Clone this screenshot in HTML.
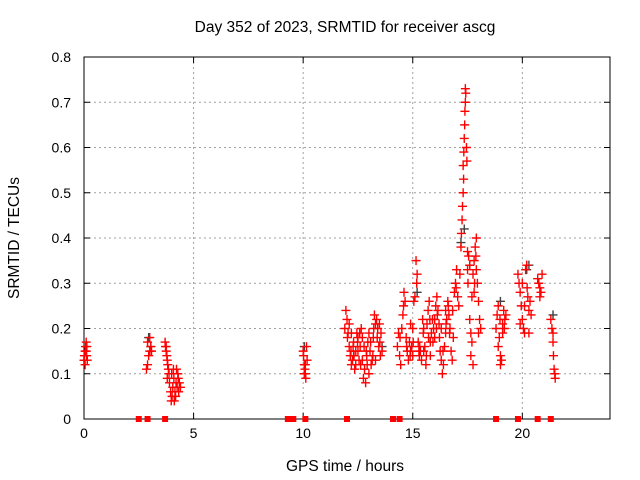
<!DOCTYPE html>
<html><head><meta charset="utf-8"><style>
body{margin:0;background:#fff;}
svg{display:block;font-family:"Liberation Sans",sans-serif;}
</style></head><body>
<svg id="chart" width="640" height="480">
<text x="345" y="32" text-anchor="middle" font-size="15.5">Day 352 of 2023, SRMTID for receiver ascg</text>
<text x="345" y="471" text-anchor="middle" font-size="15.5">GPS time / hours</text>
<text transform="translate(19,238) rotate(-90)" text-anchor="middle" font-size="15.5">SRMTID / TECUs</text>
<g id="grid"></g><g id="axes"></g><g id="marks"></g>
</svg>
<script>
const xTicks=[0,5,10,15,20];
const yTicks=[0,0.1,0.2,0.3,0.4,0.5,0.6,0.7,0.8];
const redTimes=[0,0.02,0.05,0.07,0.1,0.12,0.15,0.05,0.1,0.13,
2.85,2.9,2.95,3,3.05,2.9,3,3.08,
3.7,3.72,3.75,3.78,3.8,3.82,3.85,3.88,3.75,3.8,
3.9,3.95,4,4.02,4.05,4.1,4.12,4.15,4.2,4.22,4.25,4.3,4.32,4.35,4.4,3.98,4.08,4.18,4.28,
10,10.02,10.05,10.08,10.1,10.12,10.15,10.18,10.05,10.1,
11.9,11.95,12,12.05,12.1,12.15,12.2,12.25,12.3,12.35,12.4,12.45,12.5,12.55,12.6,12.65,12.7,12.75,12.8,12.85,12.9,12.95,13,13.05,13.1,13.15,13.2,13.25,13.3,13.35,13.4,13.45,13.5,13.55,13.6,12.2,12.4,12.7,13,13.3,12.1,12.5,
12.02,12.18,12.32,12.48,12.62,12.78,12.92,13.08,13.22,13.38,13.52,12.28,12.58,12.88,13.18,13.48,
14.3,14.35,14.4,14.45,14.5,14.55,14.6,14.65,14.7,14.75,14.8,14.85,14.9,14.95,15,15.05,15.1,15.15,15.2,15.25,15.3,15.35,15.4,15.45,15.5,15.55,15.6,15.65,15.7,15.75,15.8,15.85,15.9,15.95,16,16.05,16.1,16.15,16.2,16.25,16.3,16.35,16.4,16.45,16.5,16.55,16.6,16.65,16.7,16.75,16.8,16.85,16.9,16.95,17,15,15.5,16,16.5,14.9,15.8,16.3,
14.42,14.58,14.72,14.88,15.02,15.18,15.32,15.48,15.62,15.78,15.92,16.08,16.22,16.38,16.52,16.68,16.82,16.98,15.28,15.72,16.12,16.62,
17.05,17.1,17.15,17.2,17.22,17.25,17.27,17.3,17.32,17.3,17.33,17.35,17.37,17.38,17.4,17.42,17.4,17.45,17.47,17.5,17.5,17.52,17.55,17.6,
17.6,17.65,17.7,17.75,17.8,17.85,17.9,17.95,18,18.05,18.1,17.7,17.8,17.9,18,17.65,17.75,17.82,17.88,
18.8,18.85,18.9,18.95,19,19.05,19.1,19.15,19.2,19.25,18.9,19,19.1,18.98,19.18,
19.8,19.85,19.9,19.95,20,20.05,20.1,20.15,20.2,20.25,20.3,20.35,20.4,19.9,20.1,20.3,20.0,20.22,
20.7,20.75,20.8,20.85,20.9,20.8,
21.3,21.35,21.4,21.42,21.45,21.48,21.5,21.4];
const redValues=[.13,.14,.15,.16,.17,.14,.13,.12,.15,.16,
.11,.12,.14,.15,.16,.17,.18,.15,
.17,.16,.15,.14,.13,.12,.11,.10,.16,.09,
.08,.06,.1,.05,.07,.09,.04,.06,.08,.11,.07,.09,.06,.08,.07,.04,.11,.05,.1,
.15,.14,.12,.11,.10,.09,.16,.13,.1,.12,
.2,.24,.22,.19,.16,.14,.12,.13,.17,.11,.15,.19,.18,.13,.16,.2,.18,.09,.11,.08,.14,.17,.19,.15,.12,.13,.18,.23,.21,.22,.2,.16,.17,.19,.15,.19,.12,.13,.1,.13,.21,.15,
.18,.15,.14,.17,.12,.16,.12,.17,.2,.18,.14,.16,.19,.15,.14,.21,
.16,.19,.14,.12,.2,.23,.28,.26,.18,.15,.13,.17,.21,.16,.14,.26,.27,.35,.32,.17,.14,.15,.13,.22,.2,.16,.12,.21,.24,.26,.17,.19,.22,.2,.18,.25,.27,.24,.21,.15,.13,.1,.12,.16,.19,.22,.26,.23,.2,.15,.13,.18,.28,.3,.33,.2,.15,.22,.24,.15,.14,.2,
.18,.25,.16,.14,.17,.3,.16,.19,.14,.22,.17,.2,.18,.15,.21,.19,.24,.29,.15,.18,.23,.25,
.27,.25,.32,.38,.41,.44,.47,.5,.53,.56,.59,.62,.65,.68,.7,.72,.73,.6,.57,.37,.33,.3,.36,.34,
.22,.19,.27,.32,.35,.38,.4,.3,.26,.22,.2,.17,.28,.33,.19,.14,.12,.3,.36,
.2,.23,.25,.18,.14,.13,.21,.24,.22,.23,.16,.12,.19,.22,.2,
.32,.3,.28,.25,.22,.2,.19,.33,.34,.27,.24,.26,.23,.21,.25,.19,.3,.29,
.31,.3,.29,.28,.32,.27,
.22,.2,.17,.14,.11,.1,.09,.19];
const blackTimes=[0,2.95,3.05,10.05,12.3,13.6,15.2,17.2,17.35,17.6,19.0,20.2,20.3,21.4];
const blackValues=[.13,.18,.16,.16,.14,.16,.28,.39,.42,.34,.26,.33,.34,.23];
const zeroTimes=[2.5,2.9,3.7,9.3,9.45,9.55,10.1,12.0,14.1,14.4,18.8,19.8,20.7,21.3];
const NS="http://www.w3.org/2000/svg";
const L=84,R=610,T=57,B=419,XMAX=24,YMAX=0.8;
const xs=t=>L+t/XMAX*(R-L), ys=v=>B-v/YMAX*(B-T);
function mk(tag,attrs,parent){const e=document.createElementNS(NS,tag);for(const k in attrs)e.setAttribute(k,attrs[k]);parent.appendChild(e);return e;}
const grid=document.getElementById('grid'),axes=document.getElementById('axes'),marks=document.getElementById('marks');
xTicks.forEach(t=>{const x=xs(t);
 if(t>0){const g=mk('line',{x1:x,x2:x,y1:T,y2:B,stroke:'#a0a0a0','stroke-dasharray':'2,3'},grid);
 
 }
 mk('line',{x1:x,x2:x,y1:B,y2:B-6,stroke:'#000'},axes);mk('line',{x1:x,x2:x,y1:T,y2:T+6,stroke:'#000'},axes);
 const tx=mk('text',{x:x,y:B+19,'text-anchor':'middle','font-size':'14'},axes);tx.textContent=t;
 
 });
yTicks.forEach(v=>{const y=ys(v);
 if(v>0&&v<YMAX){const g=mk('line',{x1:L,x2:R,y1:y,y2:y,stroke:'#a0a0a0','stroke-dasharray':'2,3'},grid);
 
 }
 mk('line',{x1:L,x2:L+6,y1:y,y2:y,stroke:'#000'},axes);mk('line',{x1:R,x2:R-6,y1:y,y2:y,stroke:'#000'},axes);
 const tx=mk('text',{x:L-13,y:y+5,'text-anchor':'end','font-size':'14'},axes);tx.textContent=v===0?'0':v.toFixed(1);
 
 });
const fr=mk('rect',{x:L,y:T,width:R-L,height:B-T,fill:'none',stroke:'#000'},axes);


function plus(t,v,col,name){const x=xs(t),y=ys(v);
 const p=mk('path',{d:`M${x-4.5},${y}h9M${x},${y-4.5}v9`,stroke:col,'stroke-width':'1.4',fill:'none'},marks);
 
 }
blackTimes.forEach((t,i)=>plus(t,blackValues[i],'#404040','black-point'));
redTimes.forEach((t,i)=>plus(t,redValues[i],'#ff0000','red-point'));
zeroTimes.forEach(t=>{const r=mk('rect',{x:xs(t)-3,y:ys(0)-3,width:6,height:6,fill:'#ff0000'},marks);
 
 });
</script>
</body></html>
